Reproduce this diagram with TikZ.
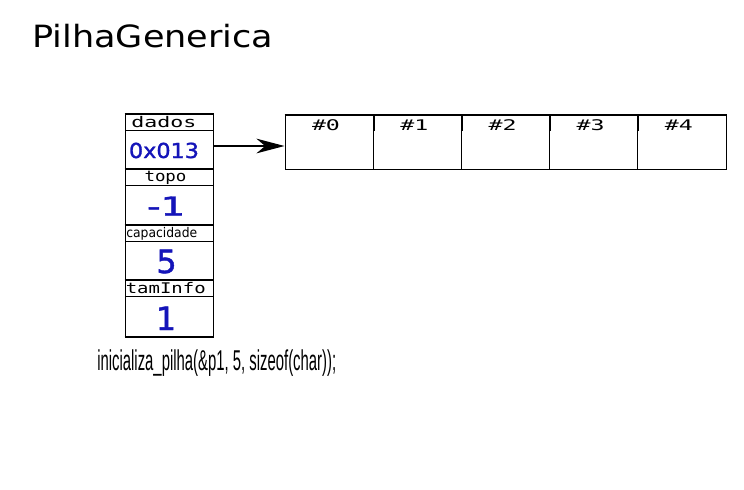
\documentclass[tikz,border=0pt]{standalone}
\usepackage{fontspec}
\usepackage{graphicx}
\usetikzlibrary{arrows.meta}
\newfontfamily\dvs{DejaVu Sans}
\newfontfamily\dvsb[FakeBold=1.4]{DejaVu Sans}
\newfontfamily\dvm{DejaVu Sans Mono}
\newfontfamily\libs{Liberation Sans}
\definecolor{valblue}{RGB}{20,20,185}
\newdimen\pxu \pxu=0.75pt
\newcommand\fitw[2]{\resizebox{#1\pxu}{\height}{#2}}
\tikzset{
  cell/.style={draw=black, line width=0.75pt, inner sep=0pt, minimum width=66pt},
  acell/.style={draw=black, line width=0.75pt, inner sep=0pt, minimum width=66.15pt, minimum height=40.875pt},
  thickl/.style={draw=black, line width=1.5pt},
  lbl/.style={inner sep=0pt, anchor=base, font=\dvm\fontsize{11}{12}\selectfont},
  val/.style={inner sep=0pt, anchor=base, text=valblue},
  ptr/.style={draw=black, line width=1.5pt, -{Stealth[length=21pt, width=11pt, inset=6.5pt]}},
}
\begin{document}
\begin{tikzpicture}[x=0.75pt, y=-0.75pt]
\useasboundingbox (0,0) rectangle (744,490);
\fill[white] (0,0) rectangle (744,490);

% title
\node[inner sep=0pt, anchor=base west] (title) at (32,47)
  {\fitw{241}{\dvs\fontsize{23}{27}\selectfont PilhaGenerica}};

% struct column
\node[cell, minimum height=12pt]     (lab1) at (169,122) {};
\node[cell, minimum height=29.625pt] (val1) at (169,149.75) {};
\node[cell, minimum height=12pt]     (lab2) at (169,177.5) {};
\node[cell, minimum height=29.625pt] (val2) at (169,205.25) {};
\node[cell, minimum height=12pt]     (lab3) at (169,233) {};
\node[cell, minimum height=29.625pt] (val3) at (169,260.75) {};
\node[cell, minimum height=12pt]     (lab4) at (169,288.5) {};
\node[cell, minimum height=29.625pt] (val4) at (169,316.25) {};

\draw[thickl] (lab1.north west) -- (lab1.north east);
\draw[thickl] (lab2.north west) -- (lab2.north east);
\draw[thickl] (lab3.north west) -- (lab3.north east);
\draw[thickl] (lab4.north west) -- (lab4.north east);
\draw[thickl] (val4.south west) -- (val4.south east);

% labels
\node[lbl] (t1) at (164,127.5) {\fitw{65}{dados}};
\node[lbl] (t2) at (165.5,181.5) {\fitw{42}{topo}};
\node[inner sep=0pt, anchor=base west] (t3) at (126,237.5)
  {\fitw{71}{\dvs\fontsize{10}{11}\selectfont capacidade}};
\node[lbl, anchor=base west] (t4) at (125.5,293) {\fitw{80}{tamInfo}};

% values
\node[val] (v1) at (164,158) {\fitw{70}{\dvsb\fontsize{15.5}{18}\selectfont 0x013}};
\node[val] (v2) at (166,215.5) {\fitw{38}{\dvsb\fontsize{19.5}{22}\selectfont -1}};
\node[val] (v3) at (166.5,273) {\dvsb\fontsize{24}{28}\selectfont 5};
\node[val] (v4) at (166,330) {\dvsb\fontsize{24}{28}\selectfont 1};

% array
\node[acell] (c0) at (329.1,142.25) {};
\node[acell] (c1) at (417.3,142.25) {};
\node[acell] (c2) at (505.5,142.25) {};
\node[acell] (c3) at (593.7,142.25) {};
\node[acell] (c4) at (681.9,142.25) {};
\draw[thickl] (c0.north west) -- (c4.north east);
\draw[thickl] (c0.north east) -- ++(0,16);
\draw[thickl] (c1.north east) -- ++(0,16);
\draw[thickl] (c2.north east) -- ++(0,16);
\draw[thickl] (c3.north east) -- ++(0,16);

\node[lbl] (h0) at (326,130) {\fitw{28}{\#0}};
\node[lbl] (h1) at (414.3,130) {\fitw{28}{\#1}};
\node[lbl] (h2) at (502.5,130) {\fitw{28}{\#2}};
\node[lbl] (h3) at (590.7,130) {\fitw{28}{\#3}};
\node[lbl] (h4) at (678.9,130) {\fitw{28}{\#4}};

% pointer
\coordinate (ay) at (0,146);
\draw[ptr] (val1.east |- ay) -- (c0.west |- ay);

% call
\node[inner sep=0pt, anchor=base west] (call) at (97,370.5)
  {\fitw{239}{\libs\fontsize{21.5}{26}\selectfont inicializa\_pilha(\&p1, 5, sizeof(char));}};
\end{tikzpicture}
\end{document}
